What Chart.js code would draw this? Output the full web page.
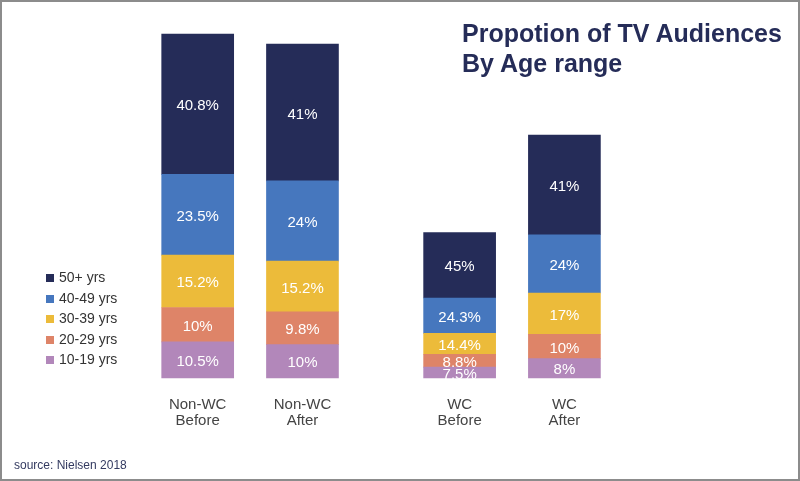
<!DOCTYPE html>
<html>
<head>
<meta charset="utf-8">
<script src="https://cdn.jsdelivr.net/npm/chart.js@4.4.1/dist/chart.umd.min.js"></script>
<style>
  body { margin: 0; background: #fff; }
  #wrap { position: relative; width: 800px; height: 481px; font-family: 'Liberation Sans', Arial, sans-serif; }
  #frame { position: absolute; left: 0; top: 0; width: 800px; height: 481px; box-sizing: border-box; border: 2px solid #8c8c8c; pointer-events: none; }
  #titulo { position: absolute; left: 462px; top: 18px; font-size: 25px; font-weight: bold; line-height: 30px; color: #252c58; }
  #fuente { position: absolute; left: 14px; top: 458px; font-size: 12px; color: #333a60; }
  #leyenda { position: absolute; left: 46px; top: 267px; font-size: 14px; color: #333; }
  #leyenda div { height: 20.6px; line-height: 20px; white-space: nowrap; }
  #leyenda span { display: inline-block; width: 8px; height: 8px; margin-right: 5px; vertical-align: 0px; }
</style>
</head>
<body>
<div id="wrap">
  <canvas id="miGrafico"></canvas>
  <div id="titulo">Propotion of TV Audiences<br>By Age range</div>
  <div id="leyenda"></div>
  <div id="fuente">source: Nielsen 2018</div>
  <div id="frame"></div>
</div>
<script>
// categorias
const categorias = [['Non-WC', 'Before'], ['Non-WC', 'After'], ['WC', 'Before'], ['WC', 'After']]
// tamaño relativo de la audiencia (Non-WC Before = 100)
const audiencia = [100, 97.1, 42.3, 70.6]
// porcentajes por rango de edad
const edad50 = [40.8, 41, 45, 41]
const edad40 = [23.5, 24, 24.3, 24]
const edad30 = [15.2, 15.2, 14.4, 17]
const edad20 = [10, 9.8, 8.8, 10]
const edad10 = [10.5, 10, 7.5, 8]
const nombres = ['50+ yrs', '40-49 yrs', '30-39 yrs', '20-29 yrs', '10-19 yrs']

// huecos en el eje para separar los grupos
const posiciones = [0, 2, 5, 7]
const numHuecos = 8
const colores = ['#252c58', '#4677be', '#ecbb3a', '#de8468', '#b287ba']

const series = [edad50, edad40, edad30, edad20, edad10]

const etiquetas = []
for (let i = 0; i < numHuecos; i++) etiquetas.push('')
posiciones.forEach((p, i) => { etiquetas[p] = categorias[i] })

// de abajo hacia arriba: 10-19 primero
const datasets = []
for (let s = series.length - 1; s >= 0; s--) {
    const valores = new Array(numHuecos).fill(null)
    const textos = new Array(numHuecos).fill(null)
    posiciones.forEach((p, i) => {
        valores[p] = series[s][i] * audiencia[i] / 100
        textos[p] = series[s][i] + '%'
    })
    datasets.push({
        label: nombres[s],
        data: valores,
        textos: textos,
        backgroundColor: colores[s],
        borderWidth: 0,
        barThickness: 72,
        clip: false
    })
}

// leyenda html
const leyenda = document.getElementById('leyenda')
nombres.forEach((n, i) => {
    const fila = document.createElement('div')
    fila.innerHTML = '<span style="background:' + colores[i] + '"></span>' + n
    leyenda.appendChild(fila)
})

const etiquetasBarras = {
    id: 'etiquetasBarras',
    afterDatasetsDraw(chart) {
        const ctx = chart.ctx
        ctx.save()
        ctx.fillStyle = '#ffffff'
        ctx.font = '15px "Liberation Sans", Arial, sans-serif'
        ctx.textAlign = 'center'
        ctx.textBaseline = 'middle'
        chart.data.datasets.forEach((ds, di) => {
            const meta = chart.getDatasetMeta(di)
            meta.data.forEach((bar, j) => {
                if (ds.data[j] == null) return
                ctx.fillText(ds.textos[j], bar.x, (bar.y + bar.base) / 2 + 2)
            })
        })
        ctx.restore()
    }
}

const ctx = document.getElementById('miGrafico').getContext('2d')
new Chart(ctx, {
    type: 'bar',
    data: { labels: etiquetas, datasets: datasets },
    plugins: [etiquetasBarras],
    options: {
        responsive: true,
        maintainAspectRatio: false,
        animation: false,
        layout: { padding: { left: 171.5, right: 209.4, top: 34, bottom: 33.5 } },
        plugins: {
            legend: { display: false },
            tooltip: { enabled: false }
        },
        scales: {
            x: {
                stacked: true,
                grid: { display: false, drawTicks: false },
                border: { display: false },
                ticks: {
                    autoSkip: false,
                    maxRotation: 0,
                    padding: 19,
                    color: '#444',
                    font: { family: '"Liberation Sans", Arial, sans-serif', size: 15, lineHeight: 1.05 }
                }
            },
            y: {
                stacked: true,
                display: false,
                min: 0,
                max: 100
            }
        }
    }
})
</script>
</body>
</html>
